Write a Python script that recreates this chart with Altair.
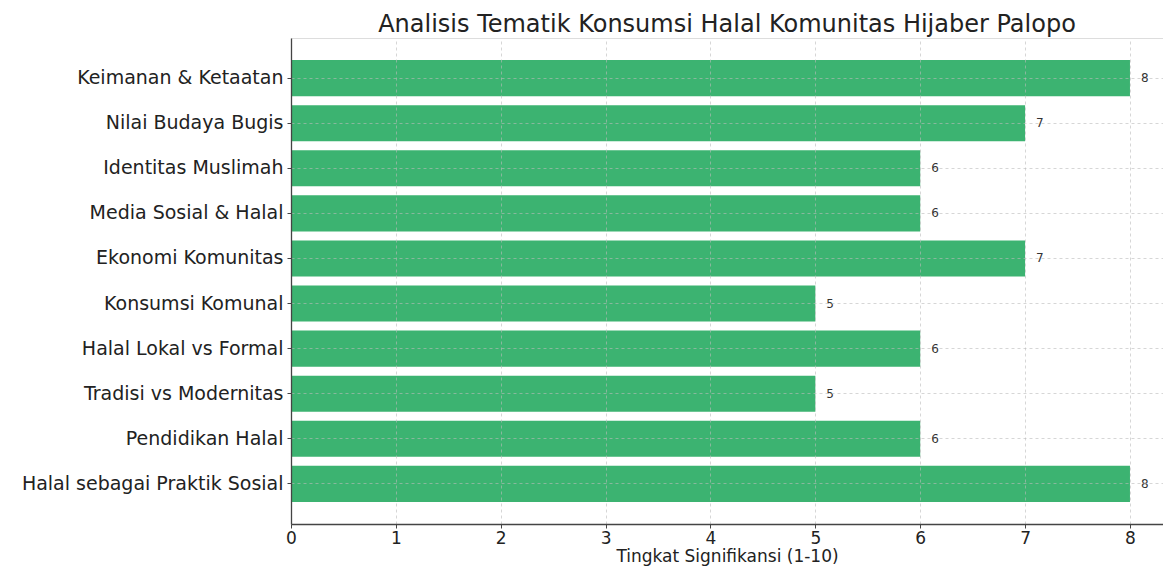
import altair as alt
import pandas as pd

categories = [
    "Keimanan & Ketaatan",
    "Nilai Budaya Bugis",
    "Identitas Muslimah",
    "Media Sosial & Halal",
    "Ekonomi Komunitas",
    "Konsumsi Komunal",
    "Halal Lokal vs Formal",
    "Tradisi vs Modernitas",
    "Pendidikan Halal",
    "Halal sebagai Praktik Sosial",
]
values = [8, 7, 6, 6, 7, 5, 6, 5, 6, 8]
x_ticks = [0, 1, 2, 3, 4, 5, 6, 7, 8]

df = pd.DataFrame({"tema": categories, "nilai": values})

FONT = "DejaVu Sans"

y_enc = alt.Y(
    "tema:N",
    sort=categories,
    title=None,
    scale=alt.Scale(paddingInner=0.2, paddingOuter=0.49),
    axis=alt.Axis(
        labelFontSize=19,
        labelFont=FONT,
        labelColor="#222222",
        labelPadding=4,
        tickSize=4,
        tickColor="#444444",
        domainColor="#444444",
        domainWidth=1.3,
        grid=True,
        gridDash=[3, 3],
        gridColor="#bbbbbb",
        gridOpacity=0.6,
        zindex=1,
        labelLimit=400,
    ),
)

x_enc = alt.X(
    "nilai:Q",
    title="Tingkat Signifikansi (1-10)",
    scale=alt.Scale(domain=[0, 8.315], nice=False, zero=True),
    axis=alt.Axis(
        values=x_ticks,
        format="d",
        labelFontSize=17,
        labelFont=FONT,
        labelColor="#222222",
        labelPadding=2,
        titleFontSize=17,
        titleFont=FONT,
        titleFontWeight="normal",
        titleColor="#222222",
        titlePadding=2,
        tickSize=4,
        tickColor="#444444",
        domainColor="#444444",
        domainWidth=1.3,
        grid=True,
        gridDash=[3, 3],
        gridColor="#bbbbbb",
        gridOpacity=0.6,
        zindex=1,
        labelFlush=False,
    ),
)

bars = alt.Chart(df).mark_bar(color="#3cb371").encode(x=x_enc, y=y_enc)

labels = alt.Chart(df).mark_text(
    align="left", baseline="middle", dx=11, fontSize=12, font=FONT, color="#333333"
).encode(x=alt.X("nilai:Q"), y=alt.Y("tema:N", sort=categories), text="nilai:Q")

chart = (
    (bars + labels)
    .properties(
        width=872,
        height=486,
        title=alt.TitleParams(
            "Analisis Tematik Konsumsi Halal Komunitas Hijaber Palopo",
            fontSize=24,
            font=FONT,
            fontWeight="normal",
            color="#222222",
            anchor="middle",
            offset=1,
        ),
        autosize=alt.AutoSizeParams(type="none"),
        padding={"left": 283, "top": 30, "right": 0, "bottom": 42},
    )
    .configure_view(stroke=None)
    .configure(background="white")
)

chart.save("out.html", embed_options={"renderer": "svg", "actions": False})
